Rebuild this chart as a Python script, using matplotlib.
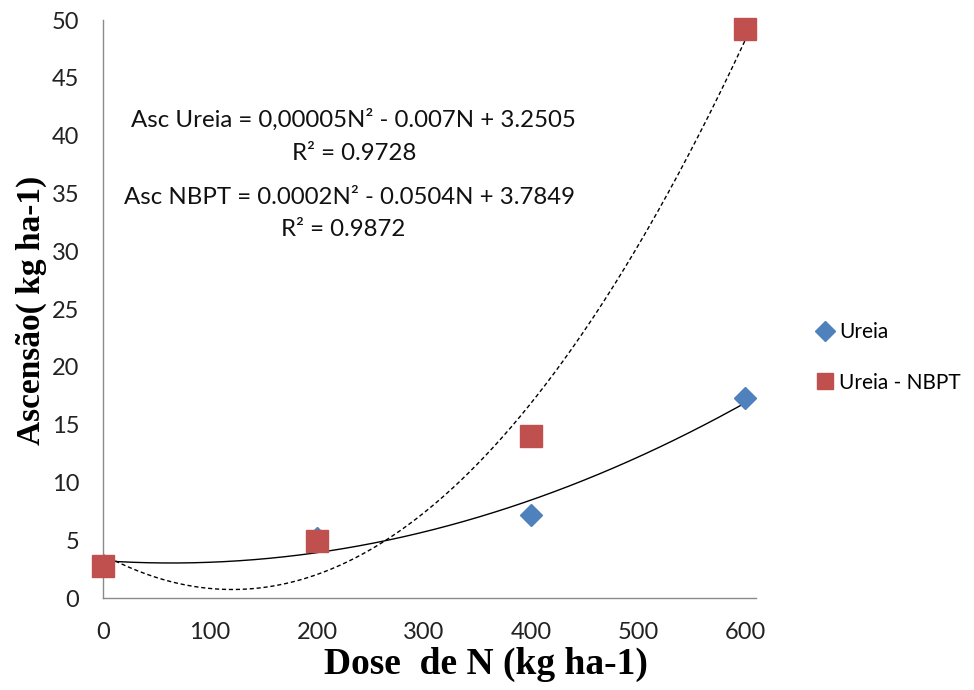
import numpy as np
import matplotlib
matplotlib.use("Agg")
import matplotlib.pyplot as plt
from matplotlib.lines import Line2D

doses = [0, 200, 400, 600]
ureia = [2.8, 5.2, 7.2, 17.3]
ureia_nbpt = [2.8, 4.9, 14.0, 49.2]
xticks = [0, 100, 200, 300, 400, 500, 600]
yticks = [0, 5, 10, 15, 20, 25, 30, 35, 40, 45, 50]

blue = "#4F81BD"
red = "#C0504D"
tick_font = "Lato"

fig = plt.figure(figsize=(9.74, 6.90), dpi=100)
ax = fig.add_axes([0.1057, 0.1333, 0.6703, 0.8377])

xs = np.linspace(0, 600, 300)
c1 = np.polyfit(doses, ureia, 2)
c2 = np.polyfit(doses, ureia_nbpt, 2)
ax.plot(xs, np.polyval(c1, xs), color="black", lw=1.0, zorder=2)
ax.plot(xs, np.polyval(c2, xs), color="black", lw=1.0, ls=(0, (3, 2)), zorder=2)

ax.plot(doses, ureia, ls="none", marker="D", ms=11, color=blue, zorder=3, clip_on=False)
ax.plot(doses, ureia_nbpt, ls="none", marker="s", ms=15.5, color=red, zorder=4, clip_on=False)

ax.set_xlim(0, 610)
ax.set_ylim(0, 50)
ax.set_xticks(xticks)
ax.set_yticks(yticks)
for lab in ax.get_xticklabels() + ax.get_yticklabels():
    lab.set_fontfamily(tick_font)
    lab.set_fontsize(17)
    lab.set_color("#222222")
ax.tick_params(axis="both", length=0)
ax.tick_params(axis="x", pad=17)
ax.tick_params(axis="y", pad=17)
for s in ["top", "right"]:
    ax.spines[s].set_visible(False)
for s in ["left", "bottom"]:
    ax.spines[s].set_color("#8a8a8a")
    ax.spines[s].set_linewidth(1.0)

fig.text(486/974, 1-664/690, "Dose  de N (kg ha-1)", fontfamily="Liberation Serif",
         fontweight="bold", fontsize=27, ha="center", va="center")
fig.text(31/974, 1-310/690, "Ascensão( kg ha-1)", fontfamily="Liberation Serif",
         fontweight="bold", fontsize=24, ha="center", va="center", rotation=90)

ann_kw = dict(fontfamily=tick_font, fontsize=17.3, ha="center", va="center",
              transform=fig.transFigure, color="#111111")
fig.text(353/974, 1-120/690, "Asc Ureia = 0,00005N² - 0.007N + 3.2505", **ann_kw)
fig.text(354/974, 1-153/690, "R² = 0.9728", **ann_kw)
fig.text(349/974, 1-197/690, "Asc NBPT = 0.0002N² - 0.0504N + 3.7849", **ann_kw)
fig.text(343/974, 1-229/690, "R² = 0.9872", **ann_kw)

handles = [Line2D([], [], ls="none", marker="D", ms=10, color=blue),
           Line2D([], [], ls="none", marker="s", ms=12, color=red)]
leg = fig.legend(handles, ["Ureia", "Ureia - NBPT"], loc="upper left",
                 bbox_to_anchor=(806/974, 1-312/690), frameon=False,
                 prop={"family": tick_font, "size": 15}, handlelength=0.8,
                 handletextpad=0.3, labelspacing=1.45, borderpad=0)

fig.savefig("out.png", dpi=100)
